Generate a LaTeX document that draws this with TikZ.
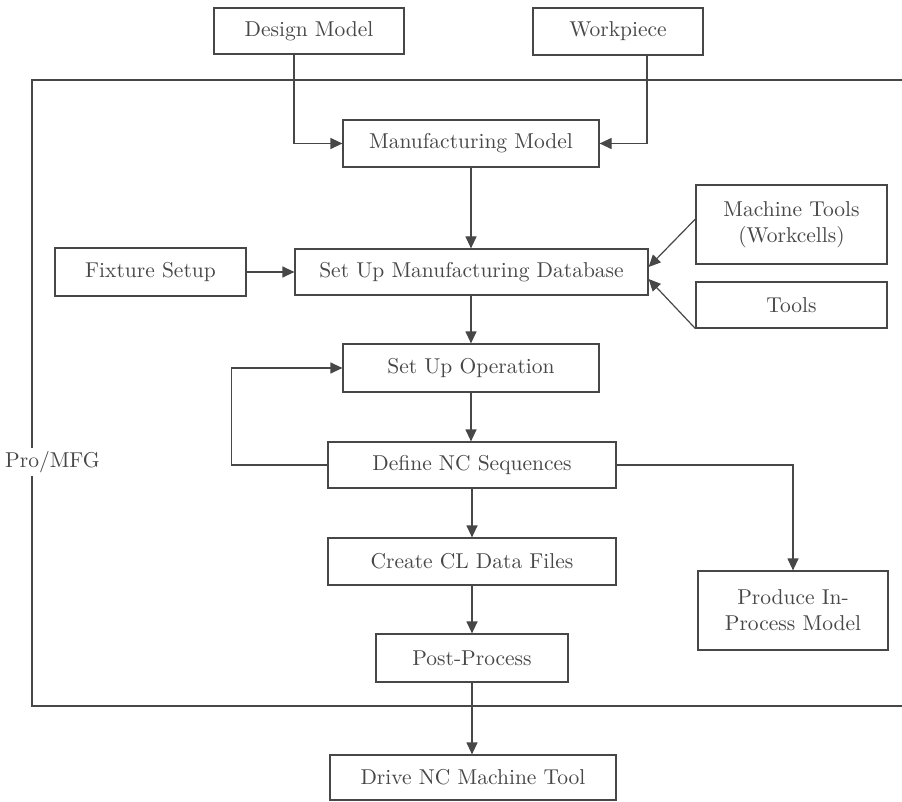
\documentclass[tikz,border=0pt]{standalone}
\usepackage{fontspec}
\setmainfont{lmroman10-regular.otf}
\usetikzlibrary{arrows.meta}
\definecolor{ink}{gray}{0.28}
\tikzset{
  box/.style={draw=ink, line width=1.2pt, inner sep=0pt, text=ink, align=center,
              font=\fontsize{21.5}{26}\selectfont},
  arr/.style={draw=ink, line width=1.2pt, -{Triangle[length=12pt,width=11pt]}},
  frame/.style={draw=ink, line width=1.2pt},
  lbl/.style={text=ink, inner sep=3pt, font=\fontsize{21.5}{26}\selectfont}
}
\begin{document}
\begin{tikzpicture}[x=1pt,y=-1pt]
\useasboundingbox (0,0) rectangle (902,802);
% nodes
\node[box, minimum width=190, minimum height=46] (dm) at (309,31) {Design Model};
\node[box, minimum width=170, minimum height=47] (wp) at (618,31.5) {Workpiece};
\node[box, minimum width=256, minimum height=47] (mm) at (471,143.5) {Manufacturing Model};
\node[box, minimum width=353, minimum height=46] (db) at (471.5,272) {Set Up Manufacturing Database};
\node[box, minimum width=191, minimum height=48] (fx) at (150.5,272) {Fixture Setup};
\node[box, minimum width=191, minimum height=79] (mt) at (791.5,224.5) {Machine Tools\\(Workcells)};
\node[box, minimum width=191, minimum height=46] (tl) at (791.5,305) {Tools};
\node[box, minimum width=256, minimum height=48] (so) at (471,368) {Set Up Operation};
\node[box, minimum width=288, minimum height=46] (nc) at (472,465) {Define NC Sequences};
\node[box, minimum width=288, minimum height=47] (cl) at (472,561.5) {Create CL Data Files};
\node[box, minimum width=192, minimum height=48] (pp) at (472,658) {Post-Process};
\node[box, minimum width=190, minimum height=79] (pm) at (793,610.5) {Produce In-\\Process Model};
\node[box, minimum width=286, minimum height=45] (dr) at (473,777.5) {Drive NC Machine Tool};
\node[lbl] (lab) at (52.5,462) {Pro/MFG};
% frame
\coordinate (ftl) at (32,80);
\coordinate (fbl) at (32,706);
\coordinate (ftr) at (902,80);
\coordinate (fbr) at (902,706);
\draw[frame] (ftr) -- (ftl) -- (ftl |- lab.north);
\draw[frame] (fbl |- lab.south) -- (fbl) -- (fbr);
% connectors
\draw[arr] ([xshift=-15pt]dm.south) |- (mm.west);
\draw[arr] ([xshift=29pt]wp.south) |- (mm.east);
\draw[arr] (mm.south) -- (mm.south |- db.north);
\draw[arr] (fx.east) -- (db.west);
\draw[arr] ([yshift=5.5pt]mt.west) -- ([yshift=5pt]db.east);
\draw[arr] (tl.south west) -- ([yshift=-7pt]db.east);
\draw[arr] (db.south -| so.north) -- (so.north);
\draw[arr] (so.south) -- (so.south |- nc.north);
\draw[arr] (nc.west) -- ++(-96,0) |- (so.west);
\draw[arr] (nc.south -| cl.north) -- (cl.north);
\draw[arr] (cl.south) -- (cl.south |- pp.north);
\draw[arr] (pp.south) -- (pp.south |- dr.north);
\draw[arr] (nc.east) -| (pm.north);
\end{tikzpicture}
\end{document}
